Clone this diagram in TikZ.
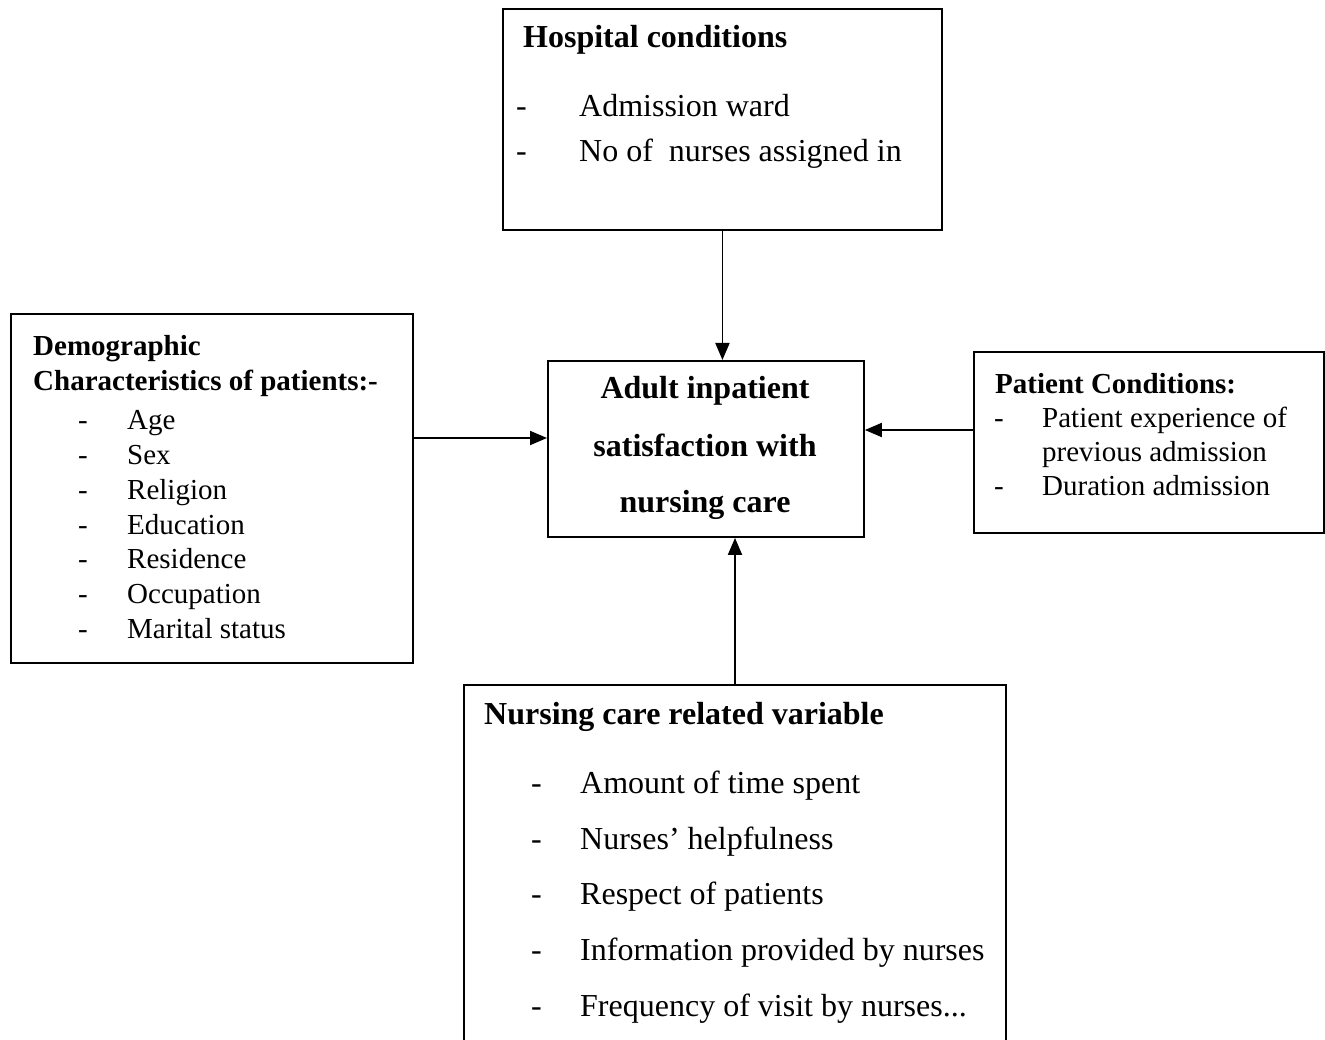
\documentclass[tikz,border=0pt]{standalone}
\usepackage{fontspec}
\setmainfont{Liberation Serif}
\usetikzlibrary{arrows.meta}
\begin{document}
\begin{tikzpicture}[x=1pt,y=-1pt,
  box/.style={draw,line width=1.9pt,rectangle,inner sep=0pt,anchor=north west},
  txt/.style={inner sep=0pt,anchor=base west},
  ctr/.style={inner sep=0pt,anchor=base},
  fbig/.style={font=\fontsize{32}{38}\selectfont},
  fsmall/.style={font=\fontsize{29}{35}\selectfont},
  arr/.style={line width=1.9pt,-{Triangle[length=17pt,width=14pt]}}]
\useasboundingbox (0,0) rectangle (1325,1040);

% boxes
\node[box,minimum width=439pt,minimum height=221pt] (hosp) at (502,8) {};
\node[box,minimum width=402pt,minimum height=349pt] (demo) at (10,313) {};
\node[box,minimum width=316pt,minimum height=176pt] (sat) at (547,360) {};
\node[box,minimum width=350pt,minimum height=181pt] (pat) at (973,351) {};
\node[box,minimum width=542pt,minimum height=420pt] (nurs) at (463,684) {};

% hospital conditions
\node[txt,fbig] (h0) at (523,48) {\bfseries Hospital conditions};
\node[txt,fbig] (h1d) at (516,117) {-};
\node[txt,fbig] (h1) at (579,117) {Admission ward};
\node[txt,fbig] (h2d) at (516,162) {-};
\node[txt,fbig] (h2) at (579,162) {No of \ nurses assigned in};

% demographic
\node[txt,fsmall] (d0) at (33,356) {\bfseries Demographic};
\node[txt,fsmall] (d00) at (33,391) {\bfseries Characteristics of patients:-};
\foreach \t/\y [count=\i] in {Age/429,Sex/464,Religion/499,Education/534,Residence/568,Occupation/603,Marital status/638}{
  \node[txt,fsmall] (dd\i) at (78,\y) {-};
  \node[txt,fsmall] (di\i) at (127,\y) {\t};
}

% central
\node[ctr,fbig] (s1) at (705,399) {\bfseries Adult inpatient};
\node[ctr,fbig] (s2) at (705,456) {\bfseries satisfaction with};
\node[ctr,fbig] (s3) at (705,512) {\bfseries nursing care};

% patient conditions
\node[txt,fsmall] (p0) at (995,393) {\bfseries Patient Conditions:};
\node[txt,fsmall] (p1d) at (994,427) {-};
\node[txt,fsmall] (p1) at (1042,427) {Patient experience of};
\node[txt,fsmall] (p2) at (1042,461) {previous admission};
\node[txt,fsmall] (p3d) at (994,495) {-};
\node[txt,fsmall] (p3) at (1042,495) {Duration admission};

% nursing care
\node[txt,fbig] (n0) at (484,724) {\bfseries Nursing care related variable};
\foreach \t/\y [count=\i] in {Amount of time spent/793,Nurses’ helpfulness/849,Respect of patients/904,Information provided by nurses/960}{
  \node[txt,fbig] (nd\i) at (531,\y) {-};
  \node[txt,fbig] (ni\i) at (580,\y) {\t};
}
\node[txt,fbig] (nd5) at (531,1016) {-};
\node[txt,fbig] (ni5) at (580,1016) {Frequency of visit by nurses...};

% connectors
\coordinate (dA) at (412,438);
\coordinate (pA) at (973,430);
\coordinate (nA) at (735,684);
\draw[arr] (hosp.south) -- (hosp.south |- sat.north);
\draw[arr] (dA) -- (dA -| sat.west);
\draw[arr] (pA) -- (pA -| sat.east);
\draw[arr] (nA) -- (nA |- sat.south);
\end{tikzpicture}
\end{document}
